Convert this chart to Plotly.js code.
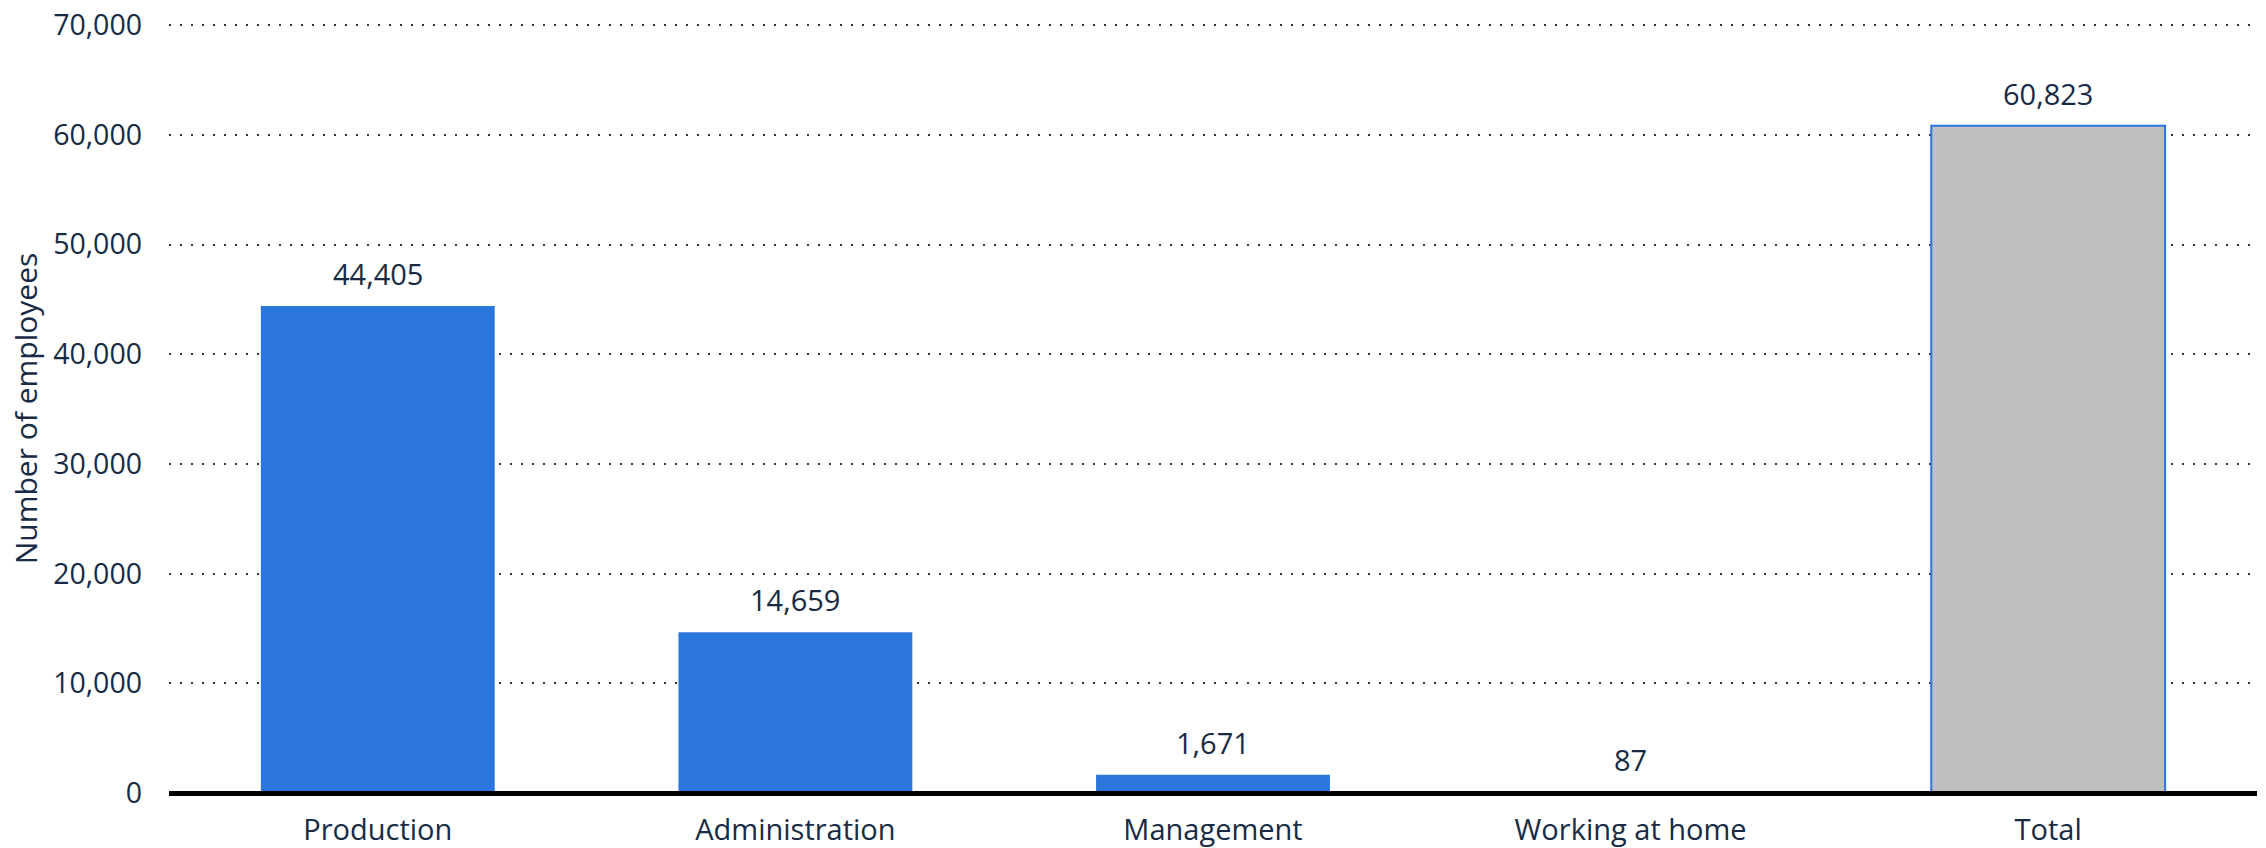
<!DOCTYPE html>
<html>
<head>
<meta charset="utf-8">
<script src="https://cdn.plot.ly/plotly-3.0.1.min.js"></script>
<style>
  html, body { margin: 0; padding: 0; background: #ffffff; }
  #chart { width: 2266px; height: 848px; }
</style>
</head>
<body>
<div id="chart"></div>
<script>
const categories = ["Production", "Administration", "Management", "Working at home", "Total"];
const employees = [44405, 14659, 1671, 87, 60823];
const yTicks = [0, 10000, 20000, 30000, 40000, 50000, 60000, 70000];

const BLUE = "#2a76dd";
const GRAY = "#bfbfbf";
const TEXT = "#172b45";
const FONT = "Open Sans, Noto Sans, sans-serif";

const fillColors = categories.map(c => c === "Total" ? GRAY : BLUE);
const lineWidths = categories.map(c => c === "Total" ? 2 : 0);

const trace = {
  type: "bar",
  x: categories,
  y: employees,
  marker: { color: fillColors, line: { color: BLUE, width: lineWidths } },
  hoverinfo: "skip"
};

const annotations = categories.map((c, i) => ({
  x: c,
  y: employees[i],
  xref: "x",
  yref: "y",
  text: employees[i].toLocaleString("en-US"),
  showarrow: false,
  yanchor: "bottom",
  yshift: 11,
  font: { family: FONT, size: 29, color: TEXT }
}));

const layout = {
  width: 2266,
  height: 848,
  margin: { l: 169, r: 9, t: 24, b: 55 },
  paper_bgcolor: "#ffffff",
  plot_bgcolor: "#ffffff",
  showlegend: false,
  bargap: 0.44,
  font: { family: FONT, color: TEXT, size: 29 },
  xaxis: {
    type: "category",
    showgrid: false,
    showline: false,
    ticks: "",
    tickfont: { family: FONT, size: 29, color: TEXT },
    ticklabelstandoff: 17,
    zeroline: false
  },
  yaxis: {
    range: [0, 70100],
    tickvals: yTicks,
    ticktext: yTicks.map(v => v.toLocaleString("en-US")),
    showgrid: true,
    gridcolor: "#333333",
    gridwidth: 2,
    griddash: "2px,9px",
    zeroline: true,
    zerolinecolor: "#000000",
    zerolinewidth: 5,
    zerolinelayer: "above traces",
    showline: false,
    ticks: "",
    ticklabelstandoff: 26,
    tickfont: { family: FONT, size: 28.5, color: TEXT },
    title: { text: "Number of employees", font: { family: FONT, size: 30, color: TEXT }, standoff: 6 }
  },
  annotations: annotations
};

Plotly.newPlot("chart", [trace], layout, { displayModeBar: false, staticPlot: true });
</script>
</body>
</html>
